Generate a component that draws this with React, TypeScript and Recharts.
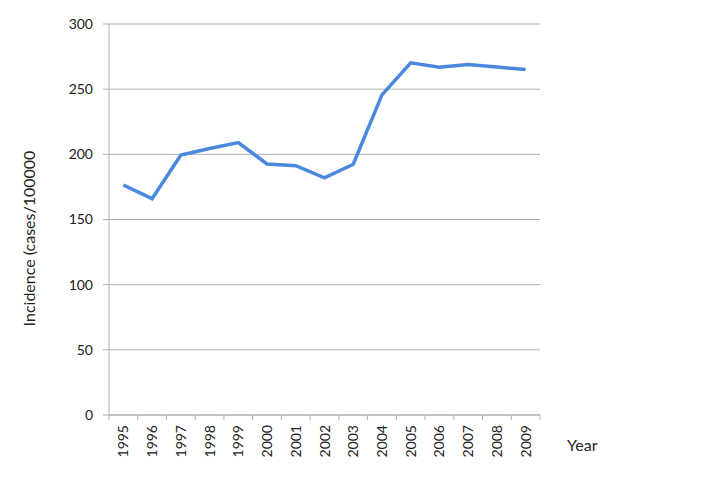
import React from 'react';
import { LineChart, Line, XAxis, YAxis, CartesianGrid } from 'recharts';

const years: string[] = [
  '1995', '1996', '1997', '1998', '1999', '2000', '2001', '2002',
  '2003', '2004', '2005', '2006', '2007', '2008', '2009',
];
const incidence: number[] = [
  176.5, 166, 199.5, 204.5, 209, 192.6, 191.3, 182, 192.4, 245.6, 270.2, 266.8, 269, 267, 265,
];
const yTicks: number[] = [0, 50, 100, 150, 200, 250, 300];

const data = years.map((year, i) => ({ year, value: incidence[i] }));

const FONT = 'Lato, "Open Sans", sans-serif';
const GRID = '#a9b0b2';
const PLOT_W = 431;
const HALF_STEP = PLOT_W / years.length / 2;

const YearTick = (props: any) => {
  const { x, y, payload, index } = props;
  const axisY = y - 8; // tickSize 5 + tickMargin 3
  const tx = x + 5;
  const ty = y + 2;
  return (
    <g>
      <line x1={x - HALF_STEP} y1={axisY} x2={x - HALF_STEP} y2={axisY + 5} stroke={GRID} />
      {index === years.length - 1 && (
        <line x1={x + HALF_STEP} y1={axisY} x2={x + HALF_STEP} y2={axisY + 5} stroke={GRID} />
      )}
      <text
        x={tx}
        y={ty}
        transform={`rotate(-90, ${tx}, ${ty})`}
        textAnchor="end"
        fontSize={14}
        fontFamily={FONT}
        fill="#222"
      >
        {payload.value}
      </text>
    </g>
  );
};

export default function App() {
  return (
    <div style={{ position: 'absolute', left: 0, top: 0, width: 704, height: 477, background: '#fff' }}>
      <LineChart
        width={704}
        height={477}
        data={data}
        margin={{ top: 24, right: 164, left: 49, bottom: 12 }}
      >
        <CartesianGrid vertical={false} stroke={GRID} />
        <XAxis
          dataKey="year"
          height={50}
          padding={{ left: HALF_STEP, right: HALF_STEP }}
          tickLine={false}
          tickSize={5}
          tickMargin={3}
          interval={0}
          axisLine={{ stroke: GRID }}
          tick={<YearTick />}
          label={{
            content: ({ viewBox }: any) => (
              <text
                x={viewBox.x + viewBox.width + 27}
                y={viewBox.y + 36}
                fontSize={16}
                fontFamily={FONT}
                fill="#222"
              >
                Year
              </text>
            ),
          }}
        />
        <YAxis
          width={60}
          domain={[0, 300]}
          ticks={yTicks}
          interval={0}
          tickSize={6}
          tickMargin={10}
          axisLine={{ stroke: GRID }}
          tickLine={{ stroke: GRID }}
          tick={{ fontSize: 14, fontFamily: FONT, fill: '#222' }}
          label={{
            content: ({ viewBox }: any) => {
              const cx = viewBox.x - 14;
              const cy = viewBox.y + viewBox.height / 2 + 19;
              return (
                <text
                  x={cx}
                  y={cy}
                  transform={`rotate(-90, ${cx}, ${cy})`}
                  textAnchor="middle"
                  fontSize={16}
                  fontFamily={FONT}
                  fill="#222"
                >
                  Incidence (cases/100000
                </text>
              );
            },
          }}
        />
        <Line
          type="linear"
          dataKey="value"
          stroke="#4a88dd"
          strokeWidth={3.5}
          dot={false}
          isAnimationActive={false}
        />
      </LineChart>
    </div>
  );
}
